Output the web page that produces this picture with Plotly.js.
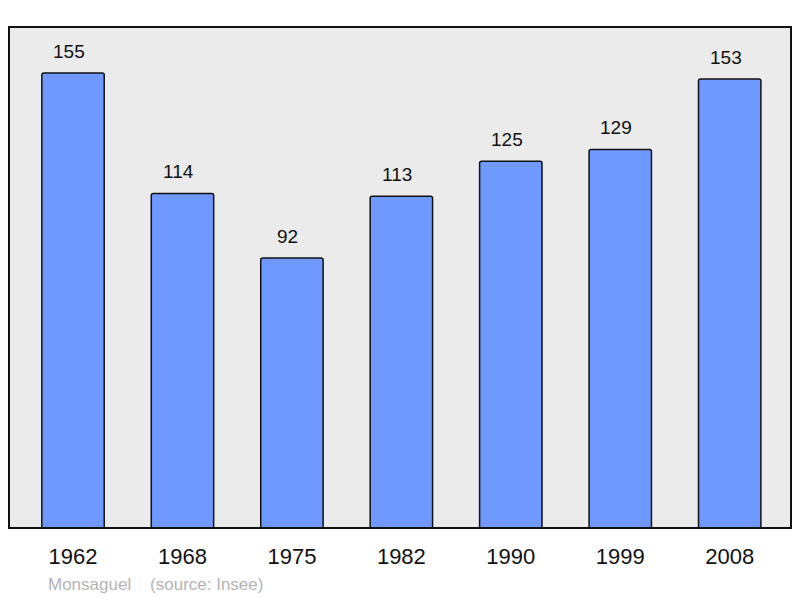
<!DOCTYPE html>
<html>
<head>
<meta charset="utf-8">
<script src="https://cdn.plot.ly/plotly-3.0.1.min.js"></script>
<style>
	body { margin: 0; background: #fff; }
	#chart { width: 800px; height: 598px; }
</style>
</head>
<body>
<div id="chart"></div>
<script>
// population by census year
const years = ["1962", "1968", "1975", "1982", "1990", "1999", "2008"]
const population = [155, 114, 92, 113, 125, 129, 153]
const sourceText = "Monsaguel    (source: Insee)"

const font = 'Liberation Sans, Arial, sans-serif'

const trace = {
	type: 'bar',
	x: years,
	y: population,
	width: 0.57,
	marker: {
		color: '#7099ff',
		line: { color: '#111', width: 1.5 },
		cornerradius: 2
	},
	hoverinfo: 'none'
}

// value labels above each bar
const labels = population.map((v, i) => ({
	xref: 'x', yref: 'y',
	x: i,
	y: v,
	text: String(v),
	showarrow: false,
	xanchor: 'center',
	yanchor: 'bottom',
	xshift: -4,
	yshift: 9,
	font: { family: font, size: 19, color: '#111' }
}))

labels.push({
	xref: 'paper', yref: 'paper',
	x: 0.047, y: -0.112,
	xanchor: 'left', yanchor: 'middle',
	text: sourceText.replace(/ /g, '&nbsp;'),
	showarrow: false,
	font: { family: font, size: 17, color: '#b4b4b4' }
})

const layout = {
	width: 800,
	height: 598,
	margin: { l: 9, r: 9, t: 27, b: 70 },
	paper_bgcolor: '#ffffff',
	plot_bgcolor: '#ebebeb',
	showlegend: false,
	xaxis: {
		type: 'category',
		range: [-0.585, 6.56],
		showgrid: false,
		zeroline: false,
		showline: false,
		ticks: '',
		ticklabelstandoff: 13,
		tickfont: { family: font, size: 22, color: '#111' }
	},
	yaxis: {
		range: [0, 170.7],
		showgrid: false,
		zeroline: false,
		showticklabels: false,
		ticks: ''
	},
	shapes: [{
		type: 'rect',
		xref: 'paper', yref: 'paper',
		x0: 0, x1: 1, y0: 0, y1: 1,
		line: { color: '#111', width: 2 },
		layer: 'above'
	}],
	annotations: labels
}

Plotly.newPlot('chart', [trace], layout, { displayModeBar: false, staticPlot: true })
</script>
</body>
</html>
